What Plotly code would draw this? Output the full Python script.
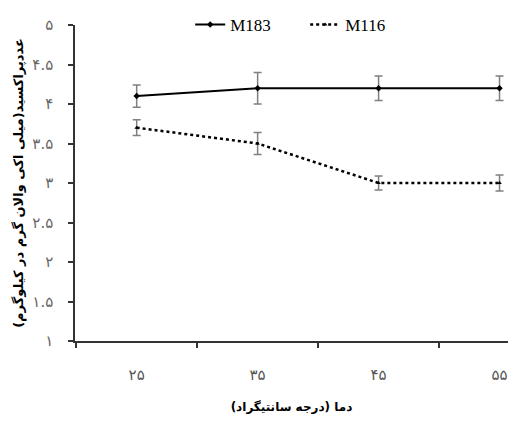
import plotly.graph_objects as go

categories = ["۲۵", "۳۵", "۴۵", "۵۵"]
m183 = [4.10, 4.20, 4.20, 4.20]
m183_err = [0.14, 0.20, 0.155, 0.155]
m116 = [3.70, 3.50, 3.00, 3.00]
m116_err = [0.10, 0.14, 0.09, 0.10]
y_tickvals = [1, 1.5, 2, 2.5, 3, 3.5, 4, 4.5, 5]
y_ticktext = ["۱", "۱.۵", "۲", "۲.۵", "۳", "۳.۵", "۴", "۴.۵", "۵"]

fig = go.Figure()
fig.add_trace(go.Scatter(
    x=categories, y=m183, name="M183", mode="lines+markers",
    line=dict(color="black", width=2),
    marker=dict(symbol="diamond", size=5, color="black"),
    error_y=dict(type="data", array=m183_err, visible=True,
                 color="#7f7f7f", thickness=1.5, width=4),
))
fig.add_trace(go.Scatter(
    x=categories, y=m116, name="M116", mode="lines+markers",
    line=dict(color="black", width=2.5, dash="dot"),
    marker=dict(symbol="triangle-up", size=4, color="black"),
    error_y=dict(type="data", array=m116_err, visible=True,
                 color="#7f7f7f", thickness=1.5, width=4),
))

fig.update_layout(
    width=510, height=424,
    margin=dict(l=75, r=2, t=25, b=83),
    plot_bgcolor="white", paper_bgcolor="white",
    showlegend=True,
    legend=dict(orientation="h", x=0.266, y=1.0, xanchor="left", yanchor="middle",
                font=dict(family="Liberation Serif", size=17, color="black"),
                bgcolor="rgba(0,0,0,0)", itemwidth=30, tracegroupgap=0,
                entrywidth=70, entrywidthmode="pixels"),
    xaxis=dict(
        type="category", categoryorder="array", categoryarray=categories,
        range=[-0.51, 3.07], tickson="boundaries",
        showline=True, linecolor="#333", linewidth=1.5,
        ticks="outside", ticklen=5, tickcolor="#333", tickwidth=1.5,
        showgrid=False, zeroline=False,
        tickfont=dict(family="DejaVu Sans", size=15, color="#555"),
        ticklabelstandoff=19,
        title=dict(text="دما (درجه سانتیگراد)",
                   font=dict(family="DejaVu Sans", size=12, color="black", weight="bold"),
                   standoff=20),
    ),
    yaxis=dict(
        range=[1, 5], tickvals=y_tickvals, ticktext=y_ticktext,
        showline=True, linecolor="#333", linewidth=1.5,
        ticks="outside", ticklen=5, tickcolor="#333", tickwidth=1.5,
        showgrid=False, zeroline=False,
        tickfont=dict(family="DejaVu Sans", size=15, color="#666"),
        ticklabelstandoff=12,
        title=dict(text="عددپراکسید(میلی اکی والان گرم در کیلوگرم)",
                   font=dict(family="DejaVu Sans", size=13, color="black", weight="bold"),
                   standoff=6),
    ),
)

fig.write_html("out.html")
